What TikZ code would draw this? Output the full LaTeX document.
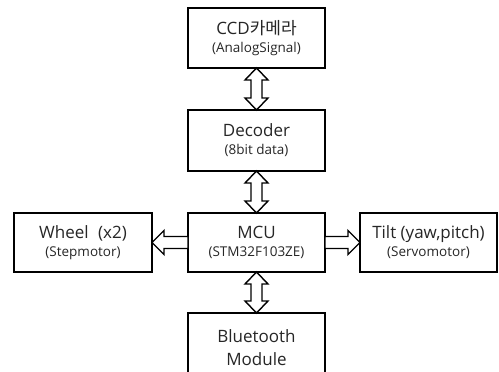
\documentclass[tikz,border=0pt]{standalone}
\usepackage{fontspec}
\setmainfont{Open Sans}
\newfontfamily\kr{Noto Sans CJK KR}
\usetikzlibrary{calc}
\tikzset{
  blk/.style={draw=black, line width=1.5pt, fill=white, minimum width=137pt, minimum height=60pt,
    inner sep=0pt, outer sep=0pt, align=center, text=black!85,
    font=\fontsize{17}{20}\selectfont},
  harrow/.style={draw=black, line width=1.4pt, fill=white, line join=miter},
}
\newcommand\subt[1]{{\fontsize{13.5}{16}\selectfont #1}}
\newcommand\vbiarrow[2]{%
  \draw[harrow] (#1.south) -- ++(11.5,12) -- ++(-6,0) -- ($(#2.north)+(5.5,-12)$) -- ++(6,0)
    -- (#2.north) -- ++(-11.5,-12) -- ++(6,0) -- ($(#1.south)+(-5.5,12)$) -- ++(-6,0) -- cycle;}
\begin{document}
\begin{tikzpicture}[x=1pt,y=-1pt]
\useasboundingbox (0,0) rectangle (499,372);
\node[blk] (ccd) at (256.5,38) {CCD{\kr 카메라}\\[-2pt]\subt{(AnalogSignal)}};
\node[blk, minimum height=61pt] (dec) at (256.5,140.5) {Decoder\\[-2pt]\subt{(8bit data)}};
\node[blk, minimum height=59pt] (mcu) at (256.5,242.5) {MCU\\[-2pt]\subt{(STM32F103ZE)}};
\node[blk, minimum width=138pt, minimum height=59pt] (wheel) at (83,242.5) {Wheel\hspace{0.3em} (x2)\\[-2pt]\subt{(Stepmotor)}};
\node[blk, minimum height=59pt] (tilt) at (428.5,242.5) {Tilt (yaw,pitch)\\[-2pt]\subt{(Servomotor)}};
\node[blk, minimum height=70pt] (bt) at (256.5,348) {Bluetooth\\[3pt]Module};
\vbiarrow{ccd}{dec}
\vbiarrow{dec}{mcu}
\vbiarrow{mcu}{bt}
\draw[harrow] (wheel.east) -- ++(12,-12) -- ++(0,6) -- ($(mcu.west)+(0,-6)$) -- ++(0,12)
  -- ($(wheel.east)+(12,6)$) -- ++(0,6) -- cycle;
\draw[harrow] (tilt.west) -- ++(-12,-12) -- ++(0,6) -- ($(mcu.east)+(0,-6)$) -- ++(0,12)
  -- ($(tilt.west)+(-12,6)$) -- ++(0,6) -- cycle;
\end{tikzpicture}
\end{document}
